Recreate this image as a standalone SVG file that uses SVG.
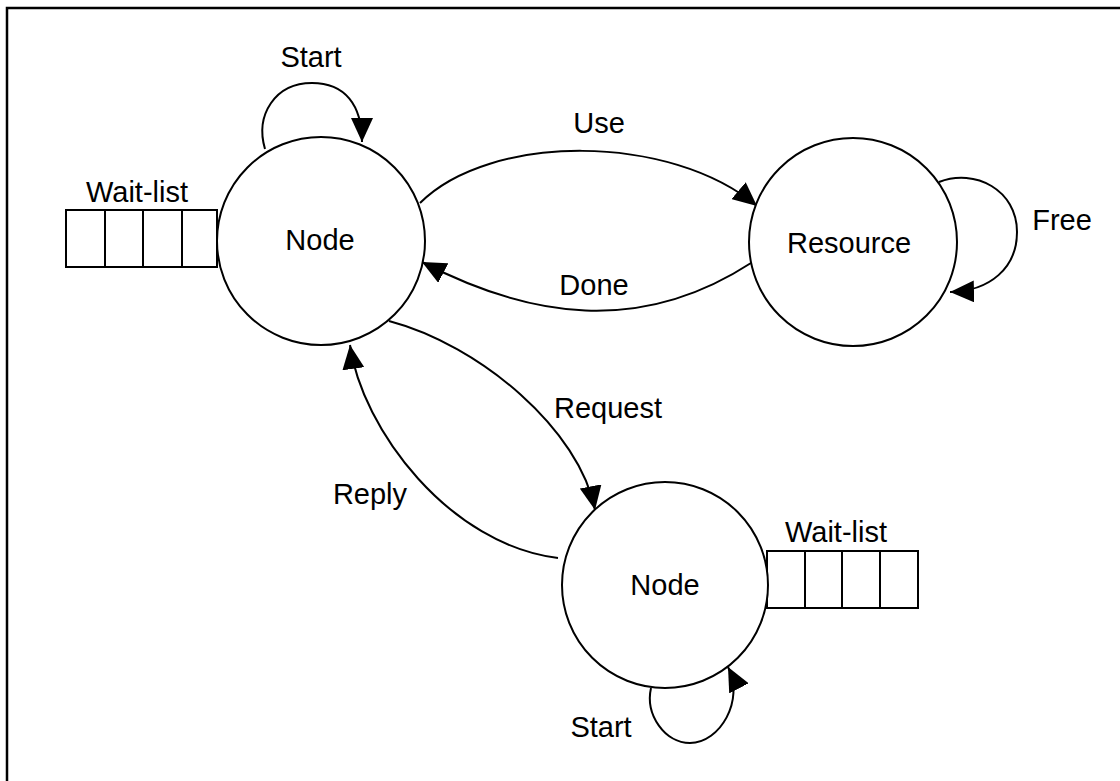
<svg xmlns="http://www.w3.org/2000/svg" width="1120" height="781" viewBox="0 0 1120 781">
<style>
.node{fill:#fff;stroke:#000;stroke-width:2}
.box{fill:#fff;stroke:#000;stroke-width:2}
.edge{fill:none;stroke:#000;stroke-width:2}
text{font-family:"Liberation Sans",Arial,sans-serif;font-size:29px;fill:#000;text-anchor:middle}
</style>
<defs>
<marker id="arr" markerUnits="userSpaceOnUse" markerWidth="24" markerHeight="22" refX="24" refY="11" orient="auto" viewBox="0 0 24 22">
<path d="M0,0 L24,11 L0,22 z" fill="#000"/>
</marker>
</defs>
<rect width="1120" height="781" fill="#fff"/>
<path d="M7,781 V8 H1120" fill="none" stroke="#000" stroke-width="2.5"/>
<g id="connectors">
<path class="edge" d="M265,149 C255,115 275,83 312,83 C345,83 362,105 362,142" marker-end="url(#arr)"/>
<text x="311" y="67">Start</text>
<path class="edge" d="M420,203 C490,133 670,133 757,206" marker-end="url(#arr)"/>
<text x="599" y="133">Use</text>
<path class="edge" d="M751,263 C640,335 530,318 422,262" marker-end="url(#arr)"/>
<text x="594" y="295">Done</text>
<path class="edge" d="M939,182 C975,168 1017,190 1017,232 C1017,268 990,291 950,292" marker-end="url(#arr)"/>
<text x="1062" y="230">Free</text>
<path class="edge" d="M389,321 C480,345 580,430 595,510" marker-end="url(#arr)"/>
<text x="608" y="418">Request</text>
<path class="edge" d="M558,558 C450,545 362,430 350,345" marker-end="url(#arr)"/>
<text x="370" y="504">Reply</text>
<path class="edge" d="M651,688 C645,715 665,743 690,743 C720,743 745,700 728,667" marker-end="url(#arr)"/>
<text x="601" y="737">Start</text>
</g>
<g id="waitlist1">
<rect class="box" x="66" y="210" width="151" height="57"/>
<path class="edge" d="M105,210 V267 M143,210 V267 M182,210 V267"/>
<text x="137" y="202">Wait-list</text>
</g>
<g id="node1">
<circle class="node" cx="321" cy="241" r="104"/>
<text x="320" y="250">Node</text>
</g>
<g id="resource">
<circle class="node" cx="853" cy="242" r="104"/>
<text x="849" y="253">Resource</text>
</g>
<g id="waitlist2">
<rect class="box" x="767" y="551" width="151" height="57"/>
<path class="edge" d="M805,551 V608 M842,551 V608 M880,551 V608"/>
<text x="836" y="542">Wait-list</text>
</g>
<g id="node2">
<circle class="node" cx="665" cy="585" r="103"/>
<text x="665" y="595">Node</text>
</g>
</svg>
